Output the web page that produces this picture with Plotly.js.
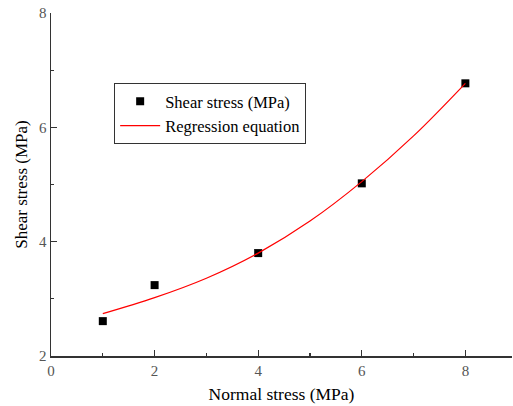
<!DOCTYPE html>
<html><head><meta charset="utf-8">
<script src="https://cdn.plot.ly/plotly-3.0.1.min.js"></script>
<style>html,body{margin:0;padding:0;background:#fff}#chart{width:513px;height:406px}</style>
</head><body><div id="chart"></div>
<script>
const normalStress = [1, 2, 4, 6, 8];
const shearStress = [2.61, 3.24, 3.80, 5.02, 6.77];
const fitX = [1, 2, 3, 4, 5, 6, 7, 8];
const fitY = [2.74, 3.02, 3.36, 3.80, 4.36, 5.05, 5.85, 6.77];
const xTicks = [0, 2, 4, 6, 8];
const yTicks = [2, 4, 6, 8];

const font = 'Times New Roman, Liberation Serif, serif';
const traces = [
  {x: normalStress, y: shearStress, mode: 'markers', type: 'scatter', name: 'Shear stress (MPa)',
   marker: {symbol: 'square', size: 8, color: '#000'}},
  {x: fitX, y: fitY, mode: 'lines', type: 'scatter', name: 'Regression equation',
   line: {color: '#ff0000', width: 1.2, shape: 'spline', smoothing: 1}}
];
const axisCommon = {
  showline: true, linecolor: '#333', linewidth: 1.5, showgrid: false, zeroline: false,
  ticks: 'inside', ticklen: 6, tickwidth: 1.2, tickcolor: '#333',
  tickfont: {family: font, size: 15, color: '#555'},
  minor: {ticks: 'inside', ticklen: 3, tickwidth: 1.2, tickcolor: '#333'}
};
const layout = {
  width: 513, height: 406,
  font: {family: font},
  margin: {l: 51, r: 1, t: 13, b: 50},
  paper_bgcolor: '#fff', plot_bgcolor: '#fff',
  showlegend: true,
  legend: {x: 0.137, y: 0.796, xanchor: 'left', yanchor: 'top', bordercolor: '#333', borderwidth: 1,
    font: {family: font, size: 16.5, color: '#000'}, bgcolor: '#fff', itemwidth: 40, tracegroupgap: 0},
  xaxis: Object.assign({}, axisCommon, {range: [0, 8.9], tickvals: xTicks, ticktext: xTicks.map(String),
    minor: Object.assign({}, axisCommon.minor, {dtick: 1, tick0: 0}),
    title: {text: 'Normal stress (MPa)', font: {family: font, size: 17.5, color: '#000'}, standoff: 10}}),
  yaxis: Object.assign({}, axisCommon, {range: [2, 8], tickvals: yTicks, ticktext: yTicks.map(String),
    minor: Object.assign({}, axisCommon.minor, {dtick: 1, tick0: 0}),
    title: {text: 'Shear stress (MPa)', font: {family: font, size: 17, color: '#000'}, standoff: 7}})
};
Plotly.newPlot('chart', traces, layout, {displayModeBar: false, staticPlot: true});
</script></body></html>
